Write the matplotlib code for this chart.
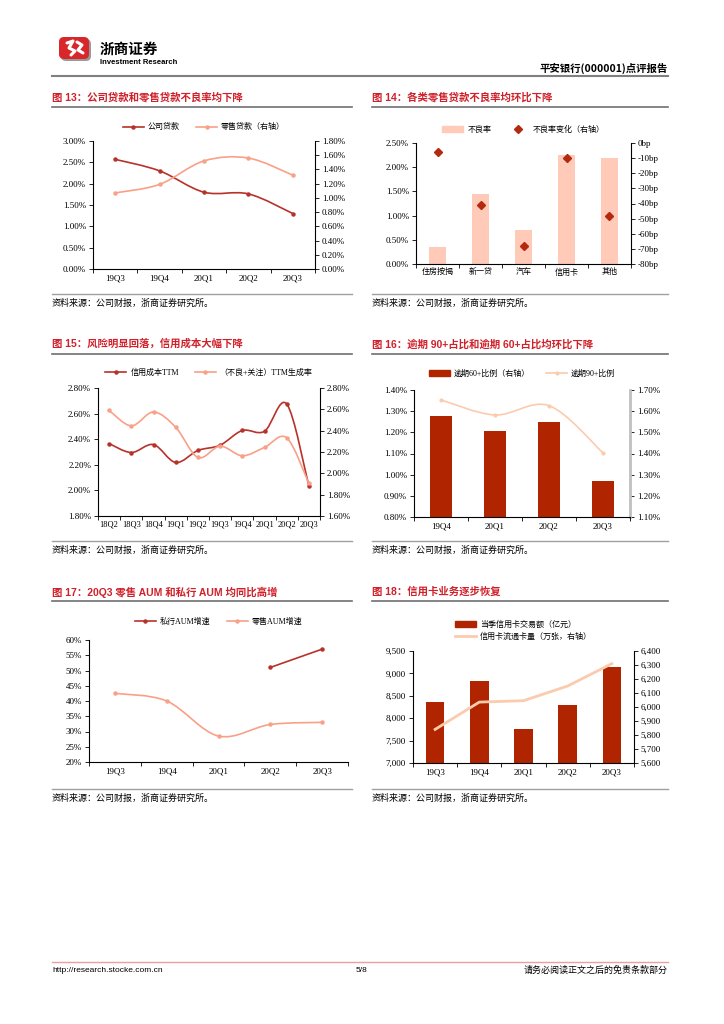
import matplotlib
matplotlib.use("Agg")
import matplotlib.pyplot as plt
from matplotlib.path import Path
from matplotlib.patches import PathPatch, FancyBboxPatch, Rectangle
from matplotlib.lines import Line2D
from matplotlib.ticker import FuncFormatter, MultipleLocator, FixedLocator

plt.rcParams['font.family'] = ['Liberation Serif', 'Noto Sans CJK SC']
plt.rcParams['axes.unicode_minus'] = False

# ---- data ----
q5 = ['19Q3', '19Q4', '20Q1', '20Q2', '20Q3']
corp_npl = [2.57, 2.30, 1.80, 1.76, 1.30]
retail_npl = [1.07, 1.19, 1.52, 1.56, 1.32]

retail_types = ['住房按揭', '新一贷', '汽车', '信用卡', '其他']
type_npl = [0.36, 1.44, 0.71, 2.25, 2.18]
type_chg = [-6, -41, -68, -10, -48]

q10 = ['18Q2', '18Q3', '18Q4', '19Q1', '19Q2', '19Q3', '19Q4', '20Q1', '20Q2', '20Q3']
credit_cost = [2.366, 2.296, 2.358, 2.218, 2.312, 2.353, 2.468, 2.462, 2.675, 2.034]
gen_rate = [2.59, 2.445, 2.575, 2.432, 2.149, 2.255, 2.165, 2.243, 2.333, 1.906]

q4 = ['19Q4', '20Q1', '20Q2', '20Q3']
overdue60 = [1.577, 1.507, 1.548, 1.269]
overdue90 = [1.353, 1.282, 1.326, 1.103]

pb_aum = [None, None, None, 51.0, 57.0]
retail_aum = [42.5, 40.0, 28.5, 32.3, 33.0]

card_volume = [8370, 8820, 7770, 8300, 9150]
card_count = [5840, 6035, 6045, 6150, 6310]

W, H = 724, 1024
DARK = '#B8312A'
SALMON = '#F9A088'
BAR_DARK = '#B02500'
BAR_LIGHT = '#FFCAB8'
PEACH = '#FBCBAE'
TITLE_RED = '#D0202A'

fig = plt.figure(figsize=(W / 100, H / 100), dpi=100)


def rect(x0, y0, x1, y1):
    return [x0 / W, 1 - y1 / H, (x1 - x0) / W, (y1 - y0) / H]


def fx(x):
    return x / W


def fy(y):
    return 1 - y / H


def smooth(ax, xs, ys, **kw):
    # excel-style smoothed line through the points
    pts = list(zip(xs, ys))
    verts = [pts[0]]
    codes = [Path.MOVETO]
    for i in range(len(pts) - 1):
        p0 = pts[i - 1] if i > 0 else pts[i]
        p1, p2 = pts[i], pts[i + 1]
        p3 = pts[i + 2] if i + 2 < len(pts) else pts[i + 1]
        c1 = (p1[0] + (p2[0] - p0[0]) / 6, p1[1] + (p2[1] - p0[1]) / 6)
        c2 = (p2[0] - (p3[0] - p1[0]) / 6, p2[1] - (p3[1] - p1[1]) / 6)
        verts += [c1, c2, p2]
        codes += [Path.CURVE4] * 3
    ax.add_patch(PathPatch(Path(verts, codes), fill=False, **kw))


def style(ax, n, labels, right=None):
    for s in ['top', 'right']:
        ax.spines[s].set_visible(False)
    for s in ['left', 'bottom']:
        ax.spines[s].set_linewidth(0.8)
    ax.set_xlim(-0.5, n - 0.5)
    ax.set_xticks(range(n))
    ax.set_xticklabels(labels)
    ax.xaxis.set_minor_locator(FixedLocator([i + 0.5 for i in range(-1, n)]))
    ax.tick_params(axis='x', which='major', length=0, labelsize=6.5, pad=4)
    ax.tick_params(axis='x', which='minor', length=3, width=0.6)
    ax.tick_params(axis='y', length=3, width=0.6, labelsize=6.5, pad=2)
    ax.patch.set_visible(False)
    if right is not None:
        for s in ['top', 'left', 'bottom']:
            right.spines[s].set_visible(False)
        right.spines['right'].set_linewidth(0.8)
        right.tick_params(axis='y', length=3, width=0.6, labelsize=6.5, pad=2)


def pct(d):
    return FuncFormatter(lambda v, p: f'{v:.{d}f}%')


def legend(ax, handles, labels, y=1.04, ncol=2):
    ax.legend(handles, labels, loc='lower center', bbox_to_anchor=(0.5, y), ncol=ncol,
              frameon=False, fontsize=5.8, handlelength=2.6, columnspacing=2.0,
              handletextpad=0.5, borderaxespad=0)


# ---- header ----
lax = fig.add_axes(rect(55, 35, 95, 65))
lax.set_xlim(0, 40)
lax.set_ylim(30, 0)
lax.axis('off')
lax.add_patch(FancyBboxPatch((6, 4), 30, 22, boxstyle='round,pad=0,rounding_size=5',
                             fc='#9A9A9A', ec='none'))
lax.add_patch(FancyBboxPatch((4, 2), 30, 22, boxstyle='round,pad=0,rounding_size=5',
                             fc='#D8262A', ec='none'))
lax.plot([12, 18, 14, 20, 16], [8, 6, 13, 16, 20], color='white', lw=2.2, solid_capstyle='round')
lax.plot([22, 27, 23, 28], [7, 10, 15, 18], color='white', lw=2.2, solid_capstyle='round')

fig.text(fx(100), fy(49), '浙商证券', fontsize=10.5, fontweight='bold', va='center',
         family=['Noto Sans CJK SC'])
fig.text(fx(100), fy(63), 'Investment Research', fontsize=5.5, va='center',
         family=['Liberation Sans Narrow', 'Liberation Sans'], fontweight='bold')
fig.text(fx(668), fy(68), '平安银行(000001)点评报告', fontsize=7.5, fontweight='bold',
         ha='right', va='center', family=['Noto Sans CJK SC'])
fig.add_artist(Line2D([fx(52), fx(668)], [fy(76), fy(76)], color='#808080', lw=1.5))

# ---- titles, underlines, sources ----
titles = [
    ('图 13：公司贷款和零售贷款不良率均下降', 52, 97),
    ('图 14：各类零售贷款不良率均环比下降', 372, 97),
    ('图 15：风险明显回落，信用成本大幅下降', 52, 344),
    ('图 16：逾期 90+占比和逾期 60+占比均环比下降', 372, 344),
    ('图 17：20Q3 零售 AUM 和私行 AUM 均同比高增', 52, 592),
    ('图 18：信用卡业务逐步恢复', 372, 592),
]
for t, x, y in titles:
    fig.text(fx(x), fy(y), t, color=TITLE_RED, fontsize=7.5, fontweight='bold', va='center',
             family=['Liberation Sans', 'Noto Sans CJK SC'])
for y_ul, y_src in [(107, 294), (354, 541), (601, 789)]:
    for x0, x1 in [(52, 352), (372, 668)]:
        fig.add_artist(Line2D([fx(x0), fx(x1)], [fy(y_ul), fy(y_ul)], color='#707070', lw=1.2))
        fig.add_artist(Line2D([fx(x0), fx(x1)], [fy(y_src), fy(y_src)], color='#A0A0A0', lw=1.0))
        fig.text(fx(x0), fy(y_src + 9), '资料来源：公司财报，浙商证券研究所。', fontsize=6.5,
                 va='center', family=['Noto Sans CJK SC'])

# ---- chart 13 ----
ax = fig.add_axes(rect(93, 141, 315, 269))
ax2 = ax.twinx()
style(ax, 5, q5, ax2)
x = list(range(5))
smooth(ax, x, corp_npl, color=DARK, lw=1.2, zorder=3)
ax.plot(x, corp_npl, ls='none', marker='o', ms=2.2, color=DARK)
smooth(ax2, x, retail_npl, color=SALMON, lw=1.2, zorder=3)
ax2.plot(x, retail_npl, ls='none', marker='o', ms=2.2, color=SALMON)
ax.set_ylim(0, 3.0)
ax.yaxis.set_major_locator(MultipleLocator(0.5))
ax.yaxis.set_major_formatter(pct(2))
ax2.set_ylim(0, 1.8)
ax2.yaxis.set_major_locator(MultipleLocator(0.2))
ax2.yaxis.set_major_formatter(pct(2))
legend(ax, [Line2D([], [], color=DARK, lw=1.2, marker='o', ms=2.2),
            Line2D([], [], color=SALMON, lw=1.2, marker='o', ms=2.2)],
       ['公司贷款', '零售贷款（右轴）'], y=1.05)

# ---- chart 14 ----
ax = fig.add_axes(rect(416, 143, 631, 264))
ax2 = ax.twinx()
style(ax, 5, retail_types, ax2)
ax.set_zorder(1)
ax2.set_zorder(2)
ax.bar(x, type_npl, width=0.4, color=BAR_LIGHT)
ax2.plot(x, type_chg, ls='none', marker='D', ms=4.5, color='#B32A10')
ax.set_ylim(0, 2.5)
ax.yaxis.set_major_locator(MultipleLocator(0.5))
ax.yaxis.set_major_formatter(pct(2))
ax2.set_ylim(-80, 0)
ax2.yaxis.set_major_locator(MultipleLocator(10))
ax2.yaxis.set_major_formatter(FuncFormatter(lambda v, p: f'{v:.0f}bp'))
ax.tick_params(axis='x', labelsize=5.8, pad=3)
legend(ax, [Rectangle((0, 0), 1, 1, color=BAR_LIGHT),
            Line2D([], [], ls='none', marker='D', ms=4, color='#B32A10')],
       ['不良率', '不良率变化（右轴）'], y=1.05)

# ---- chart 15 ----
ax = fig.add_axes(rect(98, 388, 320, 516))
ax2 = ax.twinx()
style(ax, 10, q10, ax2)
x10 = list(range(10))
smooth(ax, x10, credit_cost, color=DARK, lw=1.2, zorder=3)
ax.plot(x10, credit_cost, ls='none', marker='o', ms=2.2, color=DARK)
smooth(ax2, x10, gen_rate, color=SALMON, lw=1.2, zorder=3)
ax2.plot(x10, gen_rate, ls='none', marker='o', ms=2.2, color=SALMON)
ax.set_ylim(1.8, 2.8)
ax.yaxis.set_major_locator(MultipleLocator(0.2))
ax.yaxis.set_major_formatter(pct(2))
ax2.set_ylim(1.6, 2.8)
ax2.yaxis.set_major_locator(MultipleLocator(0.2))
ax2.yaxis.set_major_formatter(pct(2))
ax.tick_params(axis='x', labelsize=6, pad=3)
legend(ax, [Line2D([], [], color=DARK, lw=1.2, marker='o', ms=2.2),
            Line2D([], [], color=SALMON, lw=1.2, marker='o', ms=2.2)],
       ['信用成本TTM', '（不良+关注）TTM生成率'], y=1.06)

# ---- chart 16 ----
ax = fig.add_axes(rect(414, 390, 630, 517))
ax2 = ax.twinx()
style(ax, 4, q4, ax2)
ax.set_zorder(2)
ax2.set_zorder(1)
x4 = list(range(4))
ax2.bar(x4, overdue60, width=0.4, color=BAR_DARK)
smooth(ax, x4, overdue90, color=PEACH, lw=1.2, zorder=3)
ax.plot(x4, overdue90, ls='none', marker='o', ms=2, color=PEACH)
ax.set_ylim(0.8, 1.4)
ax.yaxis.set_major_locator(MultipleLocator(0.1))
ax.yaxis.set_major_formatter(pct(2))
ax2.set_ylim(1.1, 1.7)
ax2.yaxis.set_major_locator(MultipleLocator(0.1))
ax2.yaxis.set_major_formatter(pct(2))
ax2.spines['right'].set_color('#C0C0C0')
ax2.spines['right'].set_linewidth(2)
legend(ax, [Rectangle((0, 0), 1, 1, color=BAR_DARK),
            Line2D([], [], color=PEACH, lw=1.2, marker='o', ms=2)],
       ['逾期60+比例（右轴）', '逾期90+比例'], y=1.07)

# ---- chart 17 ----
ax = fig.add_axes(rect(89, 640, 348, 762))
style(ax, 5, q5)
pb_x = [i for i, v in enumerate(pb_aum) if v is not None]
pb_y = [v for v in pb_aum if v is not None]
ax.plot(pb_x, pb_y, color=DARK, lw=1.2, marker='o', ms=2.2)
smooth(ax, x, retail_aum, color=SALMON, lw=1.2, zorder=3)
ax.plot(x, retail_aum, ls='none', marker='o', ms=2.2, color=SALMON)
ax.set_ylim(20, 60)
ax.yaxis.set_major_locator(MultipleLocator(5))
ax.yaxis.set_major_formatter(FuncFormatter(lambda v, p: f'{v:.0f}%'))
legend(ax, [Line2D([], [], color=DARK, lw=1.2, marker='o', ms=2.2),
            Line2D([], [], color=SALMON, lw=1.2, marker='o', ms=2.2)],
       ['私行AUM增速', '零售AUM增速'], y=1.09)

# ---- chart 18 ----
ax = fig.add_axes(rect(413, 651, 634, 763))
ax2 = ax.twinx()
style(ax, 5, q5, ax2)
ax.bar(x, card_volume, width=0.42, color=BAR_DARK)
ax2.plot(x, card_count, color=PEACH, lw=2)
ax.set_ylim(7000, 9500)
ax.yaxis.set_major_locator(MultipleLocator(500))
ax.yaxis.set_major_formatter(FuncFormatter(lambda v, p: f'{v:,.0f}'))
ax2.set_ylim(5600, 6400)
ax2.yaxis.set_major_locator(MultipleLocator(100))
ax2.yaxis.set_major_formatter(FuncFormatter(lambda v, p: f'{v:,.0f}'))
ax.legend([Rectangle((0, 0), 1, 1, color=BAR_DARK), Line2D([], [], color=PEACH, lw=2)],
          ['当季信用卡交易额（亿元）', '信用卡流通卡量（万张，右轴）'],
          loc='lower center', bbox_to_anchor=(0.5, 1.06), ncol=1, frameon=False,
          fontsize=5.8, handlelength=2.6, handletextpad=0.5, borderaxespad=0,
          labelspacing=0.5)

# ---- footer ----
fig.add_artist(Line2D([fx(52), fx(668)], [fy(962), fy(962)], color='#E8A0A0', lw=1.0))
fig.text(fx(52), fy(970), 'http://research.stocke.com.cn', fontsize=6, va='center',
         family=['Liberation Sans'])
fig.text(fx(362), fy(970), '5/8', fontsize=6, va='center', ha='center', family=['Liberation Sans'])
fig.text(fx(668), fy(970), '请务必阅读正文之后的免责条款部分', fontsize=6.5, va='center', ha='right',
         family=['Noto Sans CJK SC'])

fig.savefig('out.png', dpi=100)
